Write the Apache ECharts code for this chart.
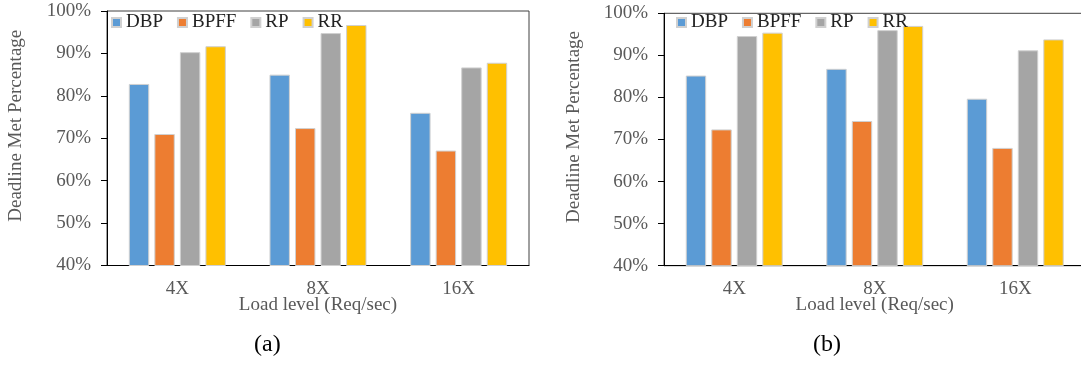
<!DOCTYPE html>
<html>
<head>
<meta charset="utf-8">
<script src="https://cdn.jsdelivr.net/npm/echarts@6/dist/echarts.min.js"></script>
<style>
  html, body { margin: 0; padding: 0; background: #ffffff; }
  #chart { width: 1081px; height: 367px; }
</style>
</head>
<body>
<div id="chart"></div>
<script>
// Load levels on the x axis
const categories = ['4X', '8X', '16X'];
const seriesNames = ['DBP', 'BPFF', 'RP', 'RR'];
const seriesColors = ['#5B9BD5', '#ED7D31', '#A5A5A5', '#FFC000'];

// Panel (a): deadline met percentage per policy
const dbpA = [82.8, 85.0, 76.0];
const bpffA = [71.0, 72.4, 67.1];
const rpA = [90.3, 94.8, 86.7];
const rrA = [91.7, 96.7, 87.8];

// Panel (b): deadline met percentage per policy
const dbpB = [85.2, 86.8, 79.7];
const bpffB = [72.4, 74.4, 68.0];
const rpB = [94.6, 96.0, 91.2];
const rrB = [95.4, 97.0, 93.8];

// y axis range (percent)
const yMin = 40, yMax = 100, yStep = 10;

const FONT = "'Liberation Serif', 'Times New Roman', serif";
const GRAY = '#595959';

const panels = [
  { grid: { left: 107, top: 11, width: 422, height: 254.5 }, data: [dbpA, bpffA, rpA, rrA], legendLeft: 111, caption: '(a)', captionX: 267 },
  { grid: { left: 664, top: 13.3, width: 421.5, height: 252.4 }, data: [dbpB, bpffB, rpB, rrB], legendLeft: 676, caption: '(b)', captionX: 826 }
];

const option = {
  animation: false,
  backgroundColor: '#ffffff',
  textStyle: { fontFamily: FONT },
  grid: panels.map(p => Object.assign({
    show: true,
    borderColor: '#404040',
    borderWidth: 1,
    backgroundColor: 'transparent',
    containLabel: false,
    outerBoundsMode: 'none'
  }, p.grid)),
  legend: panels.map(p => ({
    left: p.legendLeft,
    top: 13,
    padding: 0,
    itemWidth: 9,
    itemHeight: 9,
    itemGap: 14,
    icon: 'rect',
    z: 10,
    data: seriesNames,
    textStyle: { fontFamily: FONT, fontSize: 19, color: '#222222' }
  })),
  xAxis: panels.map((p, i) => ({
    type: 'category',
    gridIndex: i,
    data: categories,
    axisLine: { show: true, lineStyle: { color: '#000000', width: 1 } },
    axisTick: { show: false },
    axisLabel: { fontFamily: FONT, fontSize: 19, color: GRAY, margin: 14 },
    name: 'Load level (Req/sec)',
    nameLocation: 'middle',
    nameGap: 30,
    nameMoveOverlap: false,
    nameTextStyle: { fontFamily: FONT, fontSize: 19, color: GRAY }
  })),
  yAxis: panels.map((p, i) => ({
    type: 'value',
    gridIndex: i,
    min: yMin,
    max: yMax,
    interval: yStep,
    splitLine: { show: false },
    axisLine: { show: true, lineStyle: { color: '#000000', width: 1 } },
    axisTick: { show: true, inside: false, length: 6, lineStyle: { color: '#000000' } },
    axisLabel: { fontFamily: FONT, fontSize: 19, color: GRAY, margin: 16, formatter: '{value}%' },
    name: 'Deadline Met Percentage',
    nameLocation: 'middle',
    nameGap: i === 0 ? 81 : 80,
    nameMoveOverlap: false,
    nameTextStyle: { fontFamily: FONT, fontSize: 19, color: GRAY, padding: [0, 0, 0, 25] }
  })),
  series: [],
  graphic: panels.map(p => ({
    type: 'text',
    left: p.captionX - 13,
    top: 333,
    style: { text: p.caption, fontFamily: FONT, fontSize: 24, fill: '#000000' }
  }))
};

panels.forEach((p, pi) => {
  seriesNames.forEach((name, si) => {
    option.series.push({
      type: 'bar',
      name: name,
      xAxisIndex: pi,
      yAxisIndex: pi,
      data: p.data[si],
      barGap: '25%',
      barCategoryGap: '31%',
      itemStyle: { color: seriesColors[si], borderColor: '#d0d0d0', borderWidth: 1 }
    });
  });
});

const chart = echarts.init(document.getElementById('chart'), null, { renderer: 'canvas' });
chart.setOption(option);
</script>
</body>
</html>
